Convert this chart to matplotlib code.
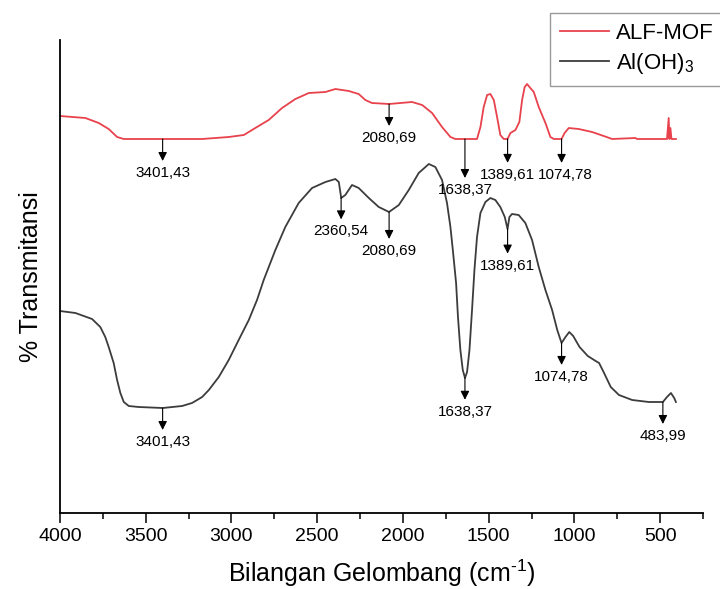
import numpy as np
import matplotlib
matplotlib.use("Agg")
import matplotlib.pyplot as plt

plt.rcParams['font.family'] = ['Liberation Sans', 'DejaVu Sans']
plt.rcParams['mathtext.fontset'] = 'custom'
plt.rcParams['mathtext.rm'] = 'Liberation Sans'
plt.rcParams['mathtext.it'] = 'Liberation Sans:italic'

# ALF-MOF spectrum (wavenumber cm-1, transmittance arb. units)
mof_wn = [4000, 3852, 3774, 3716, 3667, 3628, 3172, 3016, 2928, 2861, 2783, 2705,
          2627, 2549, 2452, 2394, 2316, 2258, 2219, 2181, 2081, 1947, 1888, 1830,
          1772, 1723, 1694, 1568, 1548, 1529, 1509, 1490, 1470, 1451, 1432, 1412,
          1390, 1373, 1344, 1321, 1305, 1290, 1276, 1257, 1237, 1208, 1169, 1140,
          1120, 1075, 1057, 1033, 975, 897, 829, 780, 644, 634, 460, 450, 446,
          440, 434, 408]
mof_t = [397, 395, 390, 384, 376, 374, 374, 376, 378, 385, 393, 405,
         414, 420, 421, 424, 422, 419, 413, 410, 409, 411, 408, 400,
         386, 376, 374, 374, 386, 406, 418, 419, 413, 396, 378, 374,
         374, 380, 383, 391, 413, 426, 429, 425, 421, 406, 390, 376,
         374, 374, 380, 385, 384, 381, 377, 374, 375, 374, 374, 395, 374,
         385, 374, 374]

# Al(OH)3 spectrum
aloh_wn = [4000, 3910, 3813, 3765, 3736, 3716, 3687, 3667, 3648, 3628, 3599, 3541,
           3401, 3288, 3230, 3171, 3132, 3074, 3016, 2958, 2899, 2851, 2812, 2744,
           2686, 2608, 2530, 2452, 2394, 2374, 2360, 2336, 2297, 2258, 2199, 2141,
           2081, 2024, 1966, 1908, 1849, 1811, 1772, 1743, 1723, 1709, 1690, 1679,
           1665, 1651, 1638, 1626, 1612, 1597, 1583, 1568, 1548, 1519, 1490, 1461,
           1432, 1406, 1390, 1379, 1364, 1325, 1286, 1247, 1208, 1169, 1130, 1100,
           1075, 1052, 1030, 1007, 970, 922, 876, 856, 827, 788, 740, 663, 566,
           484, 460, 437, 418, 408]
aloh_t = [202, 200, 194, 186, 176, 166, 150, 133, 120, 111, 107, 106,
          105, 107, 110, 116, 123, 136, 153, 173, 193, 213, 233, 263,
          286, 310, 325, 331, 334, 331, 315, 318, 328, 325, 315, 306,
          301, 308, 323, 340, 349, 346, 333, 310, 286, 263, 230, 196,
          163, 143, 135, 141, 163, 203, 243, 276, 300, 311, 315, 313,
          306, 296, 284, 296, 299, 298, 290, 273, 246, 223, 203, 183,
          170, 176, 181, 177, 166, 157, 152, 150, 140, 126, 118, 113, 111,
          111, 116, 120, 115, 111]

# peak labels
mof_peaks = [3401.43, 2080.69, 1638.37, 1389.61, 1074.78]
aloh_peaks = [3401.43, 2360.54, 2080.69, 1638.37, 1389.61, 1074.78, 483.99]

red = '#e8424c'
grey = '#3c3c3c'

fig = plt.figure(figsize=(7.2, 5.89), dpi=100)
ax = fig.add_axes([60/720, 1 - 513/589, 643/720, 473/589])

ax.plot(mof_wn, mof_t, color=red, lw=1.3, label='ALF-MOF', solid_joinstyle='round')
ax.plot(aloh_wn, aloh_t, color=grey, lw=1.3, label='Al(OH)$_3$', solid_joinstyle='round')


def mark(wn_list, x, y, length, shift=None):
    shift = shift or {}
    for w in wn_list:
        y0 = np.interp(w, x[::-1], y[::-1])
        L = length.get(w, 22)
        ax.annotate('', xy=(w, y0 - L), xytext=(w, y0),
                    arrowprops=dict(arrowstyle='-|>', color='black', lw=0.8,
                                    mutation_scale=13, shrinkA=0, shrinkB=0))
        ax.annotate(('%.2f' % w).replace('.', ','), xy=(w, y0 - L - 5),
                    xytext=(shift.get(w, 0), 0), textcoords='offset points',
                    ha='center', va='top', fontsize=11)


mark(mof_peaks, mof_wn, mof_t, {1638.37: 39, 1389.61: 24, 1074.78: 24},
     {1074.78: 3})
mark(aloh_peaks, aloh_wn, aloh_t, {2080.69: 27, 1389.61: 25})

ax.set_xlim(4000, 250)
ax.set_ylim(0, 473)
ax.set_xticks(np.arange(4000, 499, -500))
ax.set_xticks(np.arange(3750, 249, -500), minor=True)
ax.set_yticks([])
ax.tick_params(axis='x', which='major', direction='out', length=7, width=1.1,
               labelsize=14, pad=4)
ax.tick_params(axis='x', which='minor', direction='out', length=4, width=1.1)
for s in ['top', 'right']:
    ax.spines[s].set_visible(False)
for s in ['left', 'bottom']:
    ax.spines[s].set_linewidth(1.3)

ax.set_xlabel('Bilangan Gelombang (cm$^{\\text{-1}}$)', fontsize=18, labelpad=9)
ax.set_ylabel('% Transmitansi', fontsize=18, labelpad=12)

leg = ax.legend(loc='upper left', bbox_to_anchor=(550/720, 1 - 13/589),
                bbox_transform=fig.transFigure, fontsize=16, frameon=True,
                fancybox=False, edgecolor='#808080', handlelength=2.2,
                borderaxespad=0, labelspacing=0.32, handletextpad=0.3,
                borderpad=0.45)
leg.get_frame().set_linewidth(1.0)

fig.savefig('out.png', dpi=100)
